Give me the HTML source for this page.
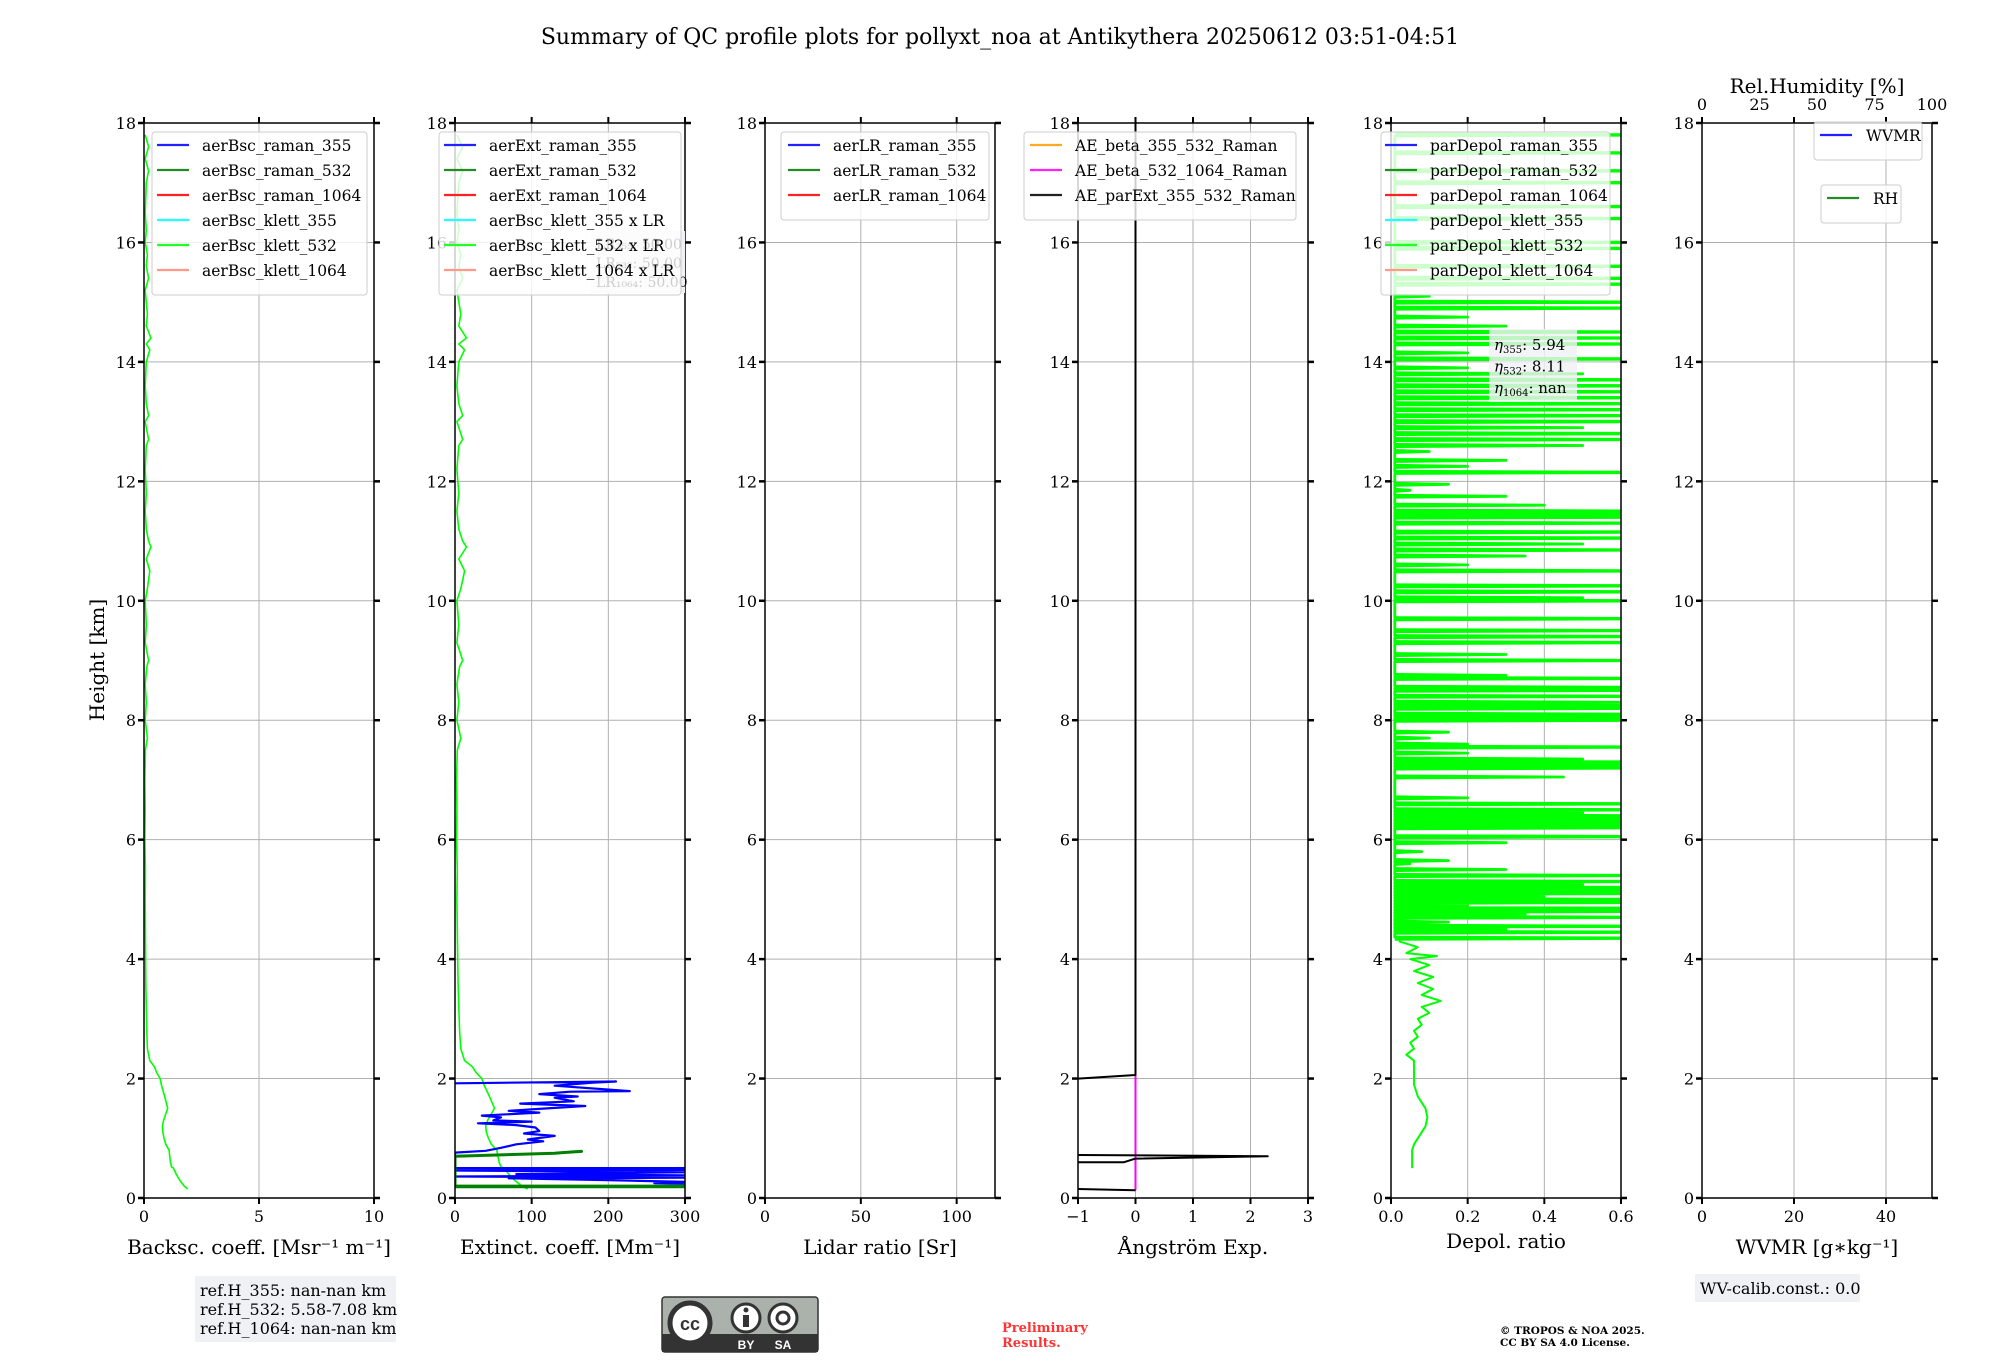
<!DOCTYPE html>
<html><head><meta charset="utf-8">
<style>
html,body{margin:0;padding:0;background:#fff;}
svg{display:block;font-family:"DejaVu Serif","Liberation Serif",serif;}
</style></head>
<body>
<svg id="fig" width="2000" height="1360" viewBox="0 0 2000 1360" xmlns="http://www.w3.org/2000/svg">
<text x="1000" y="44" text-anchor="middle" font-size="22">Summary of QC profile plots for pollyxt_noa at Antikythera 20250612 03:51-04:51</text>
<text transform="translate(104,660) rotate(-90)" text-anchor="middle" font-size="20">Height [km]</text>
<g id="panels"></g>
<!-- footer -->
<rect x="195" y="1276" width="201" height="66" fill="#f0f1f5"/>
<text font-size="16"><tspan x="200" y="1296">ref.H_355: nan-nan km</tspan><tspan x="200" y="1315">ref.H_532: 5.58-7.08 km</tspan><tspan x="200" y="1334">ref.H_1064: nan-nan km</tspan></text>
<rect x="1695" y="1274" width="165" height="28" fill="#f0f1f5"/>
<text x="1700" y="1294" font-size="16">WV-calib.const.: 0.0</text>
<g>
<rect x="662" y="1297" width="156" height="55" rx="3" fill="#aab2ab" stroke="#333" stroke-width="1.5"/>
<rect x="662" y="1334" width="156" height="18" fill="#333"/>
<circle cx="690" cy="1323" r="20" fill="#fff" stroke="#333" stroke-width="5"/>
<text x="690" y="1330" text-anchor="middle" font-family="Liberation Sans,sans-serif" font-weight="bold" font-size="18" fill="#333">cc</text>
<circle cx="746" cy="1318" r="14" fill="#fff" stroke="#333" stroke-width="3"/>
<rect x="743" y="1315" width="6" height="12" fill="#333"/><circle cx="746" cy="1310" r="2.5" fill="#333"/>
<circle cx="783" cy="1318" r="14" fill="#fff" stroke="#333" stroke-width="3"/>
<circle cx="783" cy="1318" r="6" fill="none" stroke="#333" stroke-width="3"/>
<text x="746" y="1349" text-anchor="middle" font-family="Liberation Sans,sans-serif" font-weight="bold" font-size="12" fill="#fff">BY</text>
<text x="783" y="1349" text-anchor="middle" font-family="Liberation Sans,sans-serif" font-weight="bold" font-size="12" fill="#fff">SA</text>
</g>
<text font-size="13" font-weight="bold" fill="#ff3333"><tspan x="1002" y="1332">Preliminary</tspan><tspan x="1002" y="1347">Results.</tspan></text>
<text font-size="10.5" font-weight="bold" fill="#000"><tspan x="1500" y="1334">© TROPOS &amp; NOA 2025.</tspan><tspan x="1500" y="1346">CC BY SA 4.0 License.</tspan></text>
</svg>
<script>
// ---- data ----
const bscH = [0.15,0.2,0.3,0.4,0.5,0.52,0.6,0.8,0.9,1.0,1.1,1.2,1.3,1.5,1.7,1.9,2.0,2.1,2.2,2.3,2.5,2.8,3.2,3.6,4.0,4.5,5.0,5.5,6.0,6.5,7.0,7.5,7.7,8.0,8.3,8.6,8.9,9.0,9.3,9.6,10.0,10.2,10.5,10.7,10.9,11.0,11.2,11.5,11.8,12.2,12.6,12.7,13.0,13.1,13.3,13.6,14.0,14.2,14.3,14.4,14.6,14.8,15.2,15.4,15.6,15.8,16.0,16.2,16.5,17.0,17.2,17.4,17.6,17.8];
const bscV = [1.9,1.75,1.55,1.4,1.28,1.2,1.15,1.09,0.95,0.87,0.82,0.8,0.85,1.03,0.9,0.75,0.7,0.55,0.45,0.25,0.15,0.12,0.1,0.08,0.07,0.06,0.05,0.06,0.04,0.05,0.04,0.06,0.15,0.05,0.1,0.05,0.12,0.2,0.05,0.1,0.05,0.15,0.25,0.1,0.3,0.2,0.1,0.05,0.1,0.05,0.1,0.2,0.05,0.2,0.1,0.05,0.1,0.25,0.1,0.3,0.1,0.15,0.05,0.2,0.1,0.15,0.05,0.1,0.05,0.1,0.2,0.05,0.2,0.05];
const LR = 50;
const ext355H = [0.24,0.25,0.27,0.30,0.33,0.34,0.36,0.38,0.40,0.43,0.46,0.47,0.50,0.50,0.76,0.79,0.84,0.90,0.95,0.98,1.04,1.08,1.12,1.18,1.22,1.25,1.28,1.30,1.35,1.38,1.43,1.46,1.50,1.54,1.58,1.62,1.68,1.70,1.74,1.78,1.79,1.88,1.93,1.95,1.92];
const ext355V = [300,260,300,200,70,300,0,300,80,300,0,300,300,0,0,40,60,80,115,95,130,90,110,105,80,30,100,50,60,35,110,70,120,170,85,155,130,160,110,150,228,130,180,210,0];
const ext532H = [0.19,0.19,0.2,0.2,0.7,0.75,0.76,0.78,0.77];
const ext532V = [0,300,300,0,0,130,140,165,150];
const aeBlackH = [0.15,0.13,null,0.6,0.6,0.66,0.7,0.72,null,2.0,2.06,18];
const aeBlackV = [-1,0,null,-1,-0.2,0,2.3,-1,null,-1,0,0];
const aeMagH = [0.13,2.05];
const aeMagV = [0,0];
const depolLowH = [0.5,0.8,0.9,1.0,1.2,1.35,1.5,1.7,1.9,2.1,2.3,2.4,2.5,2.6,2.7,2.8,2.9,3.0,3.1,3.2,3.3,3.4,3.5,3.6,3.7,3.8,3.9,4.0,4.05,4.1,4.2,4.3];
const depolLowV = [0.055,0.055,0.06,0.07,0.09,0.095,0.09,0.07,0.06,0.06,0.06,0.04,0.06,0.05,0.07,0.06,0.08,0.07,0.1,0.08,0.13,0.08,0.11,0.07,0.11,0.06,0.1,0.05,0.12,0.04,0.07,0.02];
const spikeH = [4.35,4.45,4.5,4.55,4.62,4.7,4.75,4.8,4.85,4.9,4.95,5.0,5.05,5.1,5.15,5.2,5.25,5.3,5.4,5.5,5.6,5.65,5.8,5.95,6.05,6.2,6.25,6.3,6.35,6.4,6.45,6.5,6.6,6.7,7.05,7.2,7.25,7.3,7.35,7.45,7.55,7.6,7.7,7.8,8.0,8.05,8.1,8.2,8.25,8.3,8.4,8.5,8.55,8.7,8.75,9.0,9.1,9.3,9.4,9.5,9.7,10.0,10.05,10.15,10.25,10.5,10.6,10.75,10.85,10.95,11.05,11.15,11.3,11.4,11.45,11.5,11.6,11.75,11.85,11.95,12.15,12.25,12.35,12.5,12.6,12.7,12.8,12.9,13.0,13.1,13.2,13.3,13.4,13.5,13.6,13.7,13.8,13.9,14.05,14.15,14.3,14.4,14.5,14.6,14.75,14.9,15.0,15.1,15.3,15.4,15.6,15.9,16.0,16.4,16.6,17.0,17.2,17.5,17.8];
const spikeV = [0.8,0.8,0.3,0.8,0.15,0.8,0.35,0.8,0.8,0.2,0.8,0.8,0.4,0.8,0.8,0.8,0.5,0.8,0.8,0.3,0.05,0.15,0.08,0.3,0.8,0.8,0.8,0.8,0.8,0.8,0.5,0.8,0.8,0.2,0.45,0.8,0.8,0.8,0.5,0.2,0.8,0.2,0.1,0.15,0.8,0.8,0.8,0.8,0.8,0.6,0.8,0.8,0.8,0.8,0.3,0.8,0.3,0.8,0.8,0.8,0.8,0.8,0.5,0.8,0.8,0.8,0.2,0.35,0.8,0.5,0.8,0.8,0.8,0.8,0.8,0.8,0.4,0.3,0.05,0.15,0.8,0.2,0.3,0.1,0.5,0.8,0.8,0.5,0.8,0.8,0.8,0.8,0.8,0.8,0.8,0.8,0.5,0.2,0.8,0.2,0.8,0.8,0.8,0.3,0.2,0.8,0.8,0.1,0.8,0.8,0.8,0.8,0.8,0.8,0.8,0.8,0.8,0.8,0.8];
const rhTicks = [0,25,50,75,100];
const yTicks = [0,2,4,6,8,10,12,14,16,18];

// ---- layout ----
const NS = "http://www.w3.org/2000/svg";
const TOP = 123, BOT = 1198, W = 230;
const lefts = [144,455,765,1078,1391,1702];
const panels = [
 {min:0,max:10,ticks:[0,5,10],lab:['0','5','10'],title:'Backsc. coeff. [Msr⁻¹ m⁻¹]',name:'backscatter'},
 {min:0,max:300,ticks:[0,100,200,300],lab:['0','100','200','300'],title:'Extinct. coeff. [Mm⁻¹]',name:'extinction'},
 {min:0,max:120,ticks:[0,50,100],lab:['0','50','100'],title:'Lidar ratio [Sr]',name:'lidar-ratio'},
 {min:-1,max:3,ticks:[-1,0,1,2,3],lab:['−1','0','1','2','3'],title:'Ångström Exp.',name:'angstrom'},
 {min:0,max:0.6,ticks:[0,0.2,0.4,0.6],lab:['0.0','0.2','0.4','0.6'],title:'Depol. ratio',name:'depol'},
 {min:0,max:50,ticks:[0,20,40],lab:['0','20','40'],title:'WVMR [g∗kg⁻¹]',name:'wvmr'}
];
const root = document.getElementById('panels');
function el(tag, attrs, parent){const e=document.createElementNS(NS,tag);for(const k in attrs)e.setAttribute(k,attrs[k]);(parent||root).appendChild(e);return e;}
function yS(h){return BOT-(h-0)/(18-0)*(BOT-TOP);}
function xS(i,v){const p=panels[i];return lefts[i]+(v-p.min)/(p.max-p.min)*W;}
function pathFrom(i,hs,vs){let d='',pen=false;for(let k=0;k<hs.length;k++){if(hs[k]===null){pen=false;continue;}d+=(pen?'L':'M')+xS(i,vs[k]).toFixed(1)+' '+yS(hs[k]).toFixed(1);pen=true;}return d;}

panels.forEach((p,i)=>{
  const L=lefts[i];
  const g=el('g',{});
  
  
  const cp=el('clipPath',{id:'clip'+i},g);
  el('rect',{x:L,y:TOP,width:W,height:BOT-TOP},cp);
  p.ticks.forEach(t=>{const x=xS(i,t);const gl=el('line',{x1:x,x2:x,y1:TOP,y2:BOT,stroke:'#b0b0b0','stroke-width':1},g);
    
    });
  yTicks.forEach(t=>{const y=yS(t);const gl=el('line',{x1:L,x2:L+W,y1:y,y2:y,stroke:'#b0b0b0','stroke-width':1},g);
    
    });
  p.g=el('g',{'clip-path':'url(#clip'+i+')'},g);
  p.frame=g;
});

function series(i,hs,vs,color,w,name,op){
  const pth=el('path',{d:pathFrom(i,hs,vs),fill:'none',stroke:color,'stroke-width':w,'stroke-linejoin':'round','opacity':op||1},panels[i].g);
  
  
}
series(0,bscH,bscV,'#00ff00',1.6,'aerbsc-klett-532-line');
series(1,bscH,bscV.map(v=>v*LR),'#00ff00',1.6,'aerbsc-klett-532-x-lr-line');
series(1,ext355H,ext355V,'#0000ff',2.2,'aerext-raman-355-line');
series(1,ext532H,ext532V,'#008000',3,'aerext-raman-532-line');
series(3,aeMagH,aeMagV,'#ff00ff',2,'ae-beta-532-1064-line');
series(3,aeBlackH,aeBlackV,'#000000',2,'ae-parext-355-532-line');
series(4,depolLowH,depolLowV,'#00ff00',2,'pardepol-klett-532-lower-line');
(function(){
  const hs=[],vs=[];
  for(let k=0;k<spikeH.length;k++){hs.push(spikeH[k]-0.018,spikeH[k],spikeH[k]+0.018);vs.push(0.01,spikeV[k],0.01);}
  series(4,hs,vs,'#00ff00',2.8,'pardepol-klett-532-upper-line');
})();

panels.forEach((p,i)=>{
  const L=lefts[i], g=p.frame;
  const fr=el('rect',{x:L,y:TOP,width:W,height:BOT-TOP,fill:'none',stroke:'#000','stroke-width':1.5},g);
  
  
  p.ticks.forEach((t,k)=>{const x=xS(i,t);
    el('line',{x1:x,x2:x,y1:BOT,y2:BOT+6,stroke:'#000','stroke-width':2},g);
    el('line',{x1:x,x2:x,y1:TOP,y2:TOP-6,stroke:'#000','stroke-width':2},g);
    const tl=el('text',{x:x,y:BOT+24,'text-anchor':'middle','font-size':16},g);tl.textContent=p.lab[k];
    
    
  });
  yTicks.forEach(t=>{const y=yS(t);
    el('line',{x1:L-6,x2:L,y1:y,y2:y,stroke:'#000','stroke-width':2.5},g);
    el('line',{x1:L+W,x2:L+W+6,y1:y,y2:y,stroke:'#000','stroke-width':2.5},g);
    const tl=el('text',{x:L-8,y:y+6,'text-anchor':'end','font-size':16},g);tl.textContent=String(t);
    
    
  });
  const xt=el('text',{x:L+W/2,y:(i==4?1248:1254),'text-anchor':'middle','font-size':20},g);xt.textContent=p.title;
  
  
});
rhTicks.forEach(t=>{const x=lefts[5]+t/100*W;
  const tl=el('text',{x:x,y:110,'text-anchor':'middle','font-size':16});tl.textContent=String(t);
  
  
});
const rht=el('text',{x:lefts[5]+W/2,y:93,'text-anchor':'middle','font-size':20});rht.textContent='Rel.Humidity [%]';



(function(){
  const b=el('rect',{x:591,y:231,width:94,height:62,fill:'#f0f1f5'});
  
  
  ['LR₃₅₅: 50.00','LR₅₃₂: 50.00','LR₁₀₆₄: 50.00'].forEach((s,k)=>{const t=el('text',{x:596,y:249+k*19,'font-size':14,fill:'#000'});t.textContent=s;
    
    });
})();

function legend(x,y,w,entries,lineX,textX,name){
  const h=entries.length*25+13;
  const g=el('g',{});
  
  
  el('rect',{x:x,y:y,width:w,height:h,rx:3,fill:'#fff','fill-opacity':0.8,stroke:'#cccccc','stroke-width':1},g);
  entries.forEach((e,k)=>{const yy=y+13+k*25;
    el('line',{x1:lineX,x2:lineX+32,y1:yy,y2:yy,stroke:e[1],'stroke-width':2.2},g);
    const t=el('text',{x:textX,y:yy+6,'font-size':15.5},g);t.textContent=e[0];
    
    
  });
}
legend(152,132,215,[['aerBsc_raman_355','#2222ff'],['aerBsc_raman_532','#228b22'],['aerBsc_raman_1064','#ff2222'],['aerBsc_klett_355','#22ffff'],['aerBsc_klett_532','#22ff22'],['aerBsc_klett_1064','#ff9988']],157,202,'backscatter-legend');
legend(439,132,242,[['aerExt_raman_355','#2222ff'],['aerExt_raman_532','#228b22'],['aerExt_raman_1064','#ff2222'],['aerBsc_klett_355 x LR','#22ffff'],['aerBsc_klett_532 x LR','#22ff22'],['aerBsc_klett_1064 x LR','#ff9988']],444,489,'extinction-legend');
legend(781,132,208,[['aerLR_raman_355','#2222ff'],['aerLR_raman_532','#228b22'],['aerLR_raman_1064','#ff2222']],788,833,'lidar-ratio-legend');
legend(1024,132,272,[['AE_beta_355_532_Raman','#ffaa22'],['AE_beta_532_1064_Raman','#ff22ff'],['AE_parExt_355_532_Raman','#222222']],1030,1075,'angstrom-legend');
legend(1381,132,229,[['parDepol_raman_355','#2222ff'],['parDepol_raman_532','#228b22'],['parDepol_raman_1064','#ff2222'],['parDepol_klett_355','#22ffff'],['parDepol_klett_532','#22ff22'],['parDepol_klett_1064','#ff9988']],1385,1430,'depol-legend');
legend(1814,122,108,[['WVMR','#2222ff']],1820,1866,'wvmr-legend');
legend(1821,185,80,[['RH','#228b22']],1827,1873,'rh-legend');

(function(){
  const b=el('rect',{x:1489,y:329,width:88,height:73,fill:'#f0f1f5','fill-opacity':0.8});
  
  
  [['355','5.94'],['532','8.11'],['1064','nan']].forEach((s,k)=>{
    const t=el('text',{x:1494,y:350+k*21.5,'font-size':15});
    t.innerHTML='<tspan font-style="italic">η</tspan><tspan font-size="10" dy="3">'+s[0]+'</tspan><tspan dy="-3">: '+s[1]+'</tspan>';
    
    
  });
})();
</script>
</body></html>
